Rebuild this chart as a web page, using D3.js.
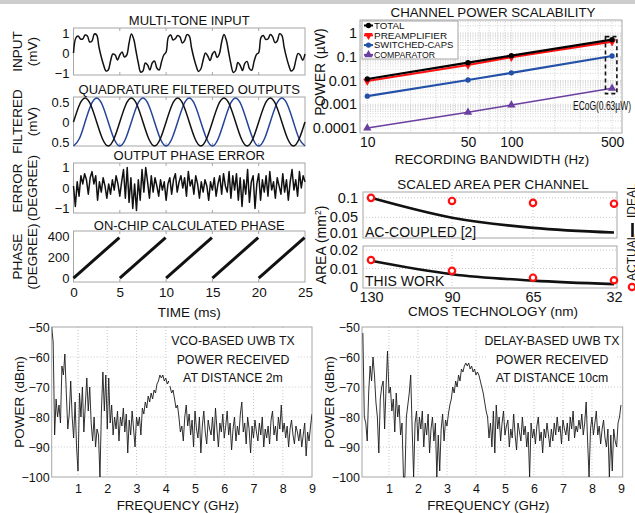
<!DOCTYPE html>
<html>
<head>
<meta charset="utf-8">
<script src="https://cdn.jsdelivr.net/npm/d3@7"></script>
<style>
  body { margin: 0; background: #fff; }
  svg text { fill: #111; }
</style>
</head>
<body>
<svg id="fig" width="635" height="513"></svg>
<script>
const FONT = '"Liberation Sans", Arial, Helvetica, sans-serif';

// ---------- data: left column (time domain) ----------
const inputStep = 0.25; // ms per sample
const inputMv = [
  0.0, 0.75, 0.85, 0.7, 0.7, 0.9, 0.85, 0.55, 0.6, 0.95,
  0.9, 0.3, -0.2, -0.6, -0.9, -0.85, -0.4, -0.05, -0.1, -0.35,
  -0.1, 0.05, -0.2, -0.1, 0.5, 0.95, 0.7, 0.1, -0.5, -0.95,
  -0.9, -0.5, -0.6, -0.85, -0.5, -0.4, -0.75, -0.85, -0.45, -0.1,
  0.05, 0.8, 0.9, 0.65, 0.72, 0.88, 0.8, 0.5, 0.62, 0.92,
  0.85, 0.25, -0.25, -0.65, -0.92, -0.8, -0.35, 0.0, -0.15, -0.38,
  -0.05, 0.08, -0.22, -0.05, 0.55, 0.92, 0.65, 0.05, -0.55, -0.97,
  -0.88, -0.48, -0.62, -0.88, -0.52, -0.42, -0.78, -0.86, -0.42, -0.08,
  0.02, 0.78, 0.88, 0.68, 0.7, 0.92, 0.82, 0.52, 0.6, 0.96,
  0.88, 0.28, -0.22, -0.62, -0.9, -0.82, -0.38, -0.02, -0.12, -0.36, -0.05
];
const quadStep = 0.625;
const quadI = [
  0, 0.42, 0.6, 0.42, 0, -0.42, -0.6, -0.42,
  0, 0.42, 0.6, 0.42, 0, -0.42, -0.6, -0.42,
  0, 0.42, 0.6, 0.42, 0, -0.42, -0.6, -0.42,
  0, 0.42, 0.6, 0.42, 0, -0.42, -0.6, -0.42,
  0, 0.42, 0.6, 0.42, 0, -0.42, -0.6, -0.42, 0
];
const quadQ = [
  -0.6, -0.42, 0, 0.42, 0.6, 0.42, 0, -0.42,
  -0.6, -0.42, 0, 0.42, 0.6, 0.42, 0, -0.42,
  -0.6, -0.42, 0, 0.42, 0.6, 0.42, 0, -0.42,
  -0.6, -0.42, 0, 0.42, 0.6, 0.42, 0, -0.42,
  -0.6, -0.42, 0, 0.42, 0.6, 0.42, 0, -0.42, -0.6
];
const errStep = 0.2;
const phaseErr = [
  0.1, -0.9, 0.3, -0.4, 0.6, 0.2, 0.7, 0.4, -0.3, 0.5,
  0.8, 0.2, 0.6, -0.6, 0.3, -0.2, 0.5, 0.1, -0.5, 0.2,
  -0.3, 0.4, -0.1, 0.6, 0.2, -0.4, 0.3, 0.9, -0.5, 1.0,
  -0.7, 0.5, -1.0, 0.2, -1.1, 0.4, -0.6, 0.9, -0.2, 1.0,
  0.3, -0.5, 0.6, -0.2, 0.5, 0.1, -0.4, 0.4, -0.1, 0.3,
  -0.6, 0.2, 0.5, -0.3, 0.4, 0.7, -0.2, 0.3, 0.6, 0.0,
  0.5, -0.4, 0.8, 0.1, 0.4, -0.3, 0.6, 0.2, -0.5, 0.3,
  -0.2, 0.4, 0.1, -0.6, 0.3, -0.1, 0.5, -0.4, 0.2, 0.6,
  -0.3, 0.7, 0.1, -0.2, 0.8, -0.5, 0.6, -0.1, 0.7, -0.6,
  0.5, -0.9, 0.4, -0.3, 0.9, -0.7, 0.3, 0.6, -1.0, 0.2,
  0.7, -0.6, 0.4, -0.2, 0.6, -0.4, 0.8, -0.1, 0.3, -0.5,
  0.5, 0.1, -0.3, 0.7, -0.2, 0.4, -0.6, 0.3, 0.9, -0.1,
  0.4, -0.4, 0.8, 0.0, 0.6, 0.3
];
const rampStart = [0, 5, 10, 15, 20];
const rampEnd = [4.95, 9.95, 14.95, 19.95, 24.95];
const rampPhase = [0, 385];
const timeTicks = [0, 5, 10, 15, 20, 25];

// ---------- data: channel power ----------
const bandwidth = [10, 50, 100, 500];
const totalPower = [0.0116, 0.056, 0.111, 0.52];
const preampPower = [0.0095, 0.045, 0.095, 0.43];
const capsPower = [0.0022, 0.0105, 0.021, 0.107];
const compPower = [0.0001, 0.00046, 0.00093, 0.0047];
const powerTicks = [0.0001, 0.001, 0.01, 0.1, 1];
const ecogBox = {bw: [450, 540], p: [0.0028, 0.7]};

// ---------- data: scaled area ----------
const cmosNodes = ['130', '90', '65', '32'];
const acIdeal = [0.1, 0.049, 0.023, 0.011];
const acActual = [0.1, 0.092, 0.087, 0.085];
const workIdeal = [0.0142, 0.0069, 0.0034, 0.0015];
const workActual = [0.0146, 0.0087, 0.005, 0.0036];

// ---------- data: UWB spectra (0.10 .. 9.00 GHz, 0.05 GHz steps) ----------
const specStart = 0.1, specStep = 0.05;
const vcoDbm = [
  -50, -55, -86, -74, -80, -76, -82, -63, -66, -59,
  -72, -84, -79, -68, -80, -87, -75, -90, -98, -72,
  -80, -70, -85, -76, -67, -78, -70, -82, -88, -80,
  -90, -84, -86, -100, -78, -65, -78, -66, -84, -67,
  -82, -76, -86, -80, -84, -78, -88, -80, -83, -77,
  -85, -79, -92, -81, -86, -78, -84, -90, -80, -83,
  -80, -86, -77, -79, -75, -77, -73, -75, -72, -74,
  -71, -72, -69, -68, -66, -67, -66, -68, -67, -69,
  -68, -70, -72, -71, -74, -77, -76, -80, -85, -83,
  -88, -80, -76, -83, -79, -86, -81, -90, -78, -84,
  -87, -80, -92, -83, -78, -85, -89, -81, -84, -86,
  -80, -88, -77, -84, -90, -82, -85, -79, -87, -83,
  -78, -86, -82, -91, -84, -80, -88, -83, -86, -79,
  -75, -85, -82, -89, -80, -84, -92, -83, -87, -81,
  -85, -88, -82, -86, -80, -90, -84, -87, -83, -89,
  -81, -78, -86, -83, -88, -80, -84, -76, -85, -82,
  -87, -83, -90, -84, -81, -86, -89, -83, -85, -88,
  -84, -90, -86, -82, -93, -85, -88, -83, -79
];
const delayDbm = [
  -52, -80, -82, -88, -72, -63, -68, -60, -66, -75,
  -80, -92, -74, -70, -68, -84, -70, -58, -72, -70,
  -78, -74, -85, -72, -80, -76, -86, -82, -100, -100,
  -80, -76, -72, -66, -84, -100, -82, -78, -88, -80,
  -84, -78, -90, -82, -86, -79, -92, -84, -80, -88,
  -82, -100, -86, -98, -84, -79, -88, -81, -83, -79,
  -76, -74, -70, -72, -68, -70, -66, -68, -64, -65,
  -63, -62, -63, -62, -64, -63, -65, -64, -66, -65,
  -66, -68, -70, -72, -75, -78, -80, -87, -82, -90,
  -78, -92, -76, -84, -80, -88, -82, -78, -86, -83,
  -81, -90, -84, -87, -79, -86, -91, -82, -85, -88,
  -80, -86, -83, -90, -85, -100, -82, -87, -84, -89,
  -83, -80, -88, -85, -92, -84, -87, -82, -86, -90,
  -84, -88, -82, -86, -80, -85, -83, -89, -81, -84,
  -86, -82, -88, -80, -84, -78, -87, -83, -85, -81,
  -84, -79, -86, -82, -75, -88, -100, -84, -80, -86,
  -82, -78, -86, -83, -89, -84, -81, -87, -90, -84,
  -100, -86, -98, -84, -88, -90, -82, -80, -76
];
const freqTicks = [1, 2, 3, 4, 5, 6, 7, 8, 9];
const dbmTicks = [-100, -90, -80, -70, -60, -50];

// ---------- drawing ----------
const svg = d3.select('#fig').attr('font-family', FONT);
svg.append('rect').attr('width', 635).attr('height', 513).attr('fill', '#fff');
svg.append('rect').attr('width', 635).attr('height', 4).attr('fill', '#cdcdcd');

const FRAME = '#a6a6a6';
const GRID = '#c8c8c8';

function styleAxis(a, size) {
  a.select('.domain').remove();
  a.attr('font-family', FONT).attr('font-size', size).style('color', '#111');
  return a;
}

function label(g, x, y, txt, size, opts = {}) {
  const t = g.append('text').attr('x', x).attr('y', y)
    .attr('font-size', size).attr('text-anchor', opts.anchor || 'middle').text(txt);
  if (opts.rotate) t.attr('transform', `rotate(${opts.rotate},${x},${y})`);
  if (opts.len) t.attr('textLength', opts.len).attr('lengthAdjust', 'spacingAndGlyphs');
  return t;
}

// left column
const lx = d3.scaleLinear().domain([0, 25]).range([73.5, 305]);
const [lx0, lx1] = lx.range();

function leftPanel(p) {
  const g = svg.append('g');
  const y = d3.scaleLinear().domain(p.domain).range([p.bottom, p.top]);
  g.append('rect').attr('x', lx0).attr('y', p.top)
    .attr('width', lx1 - lx0).attr('height', p.bottom - p.top)
    .attr('fill', 'none').attr('stroke', FRAME);
  g.selectAll('line.xt').data(timeTicks.slice(1, -1)).join('line')
    .attr('x1', d => lx(d)).attr('x2', d => lx(d))
    .attr('y1', p.bottom).attr('y2', p.bottom - 3).attr('stroke', FRAME);
  g.selectAll('line.xt2').data(timeTicks.slice(1, -1)).join('line')
    .attr('x1', d => lx(d)).attr('x2', d => lx(d))
    .attr('y1', p.top).attr('y2', p.top + 3).attr('stroke', FRAME);
  const ya = g.append('g').attr('transform', `translate(${lx0 - 3},0)`)
    .call(d3.axisLeft(y).tickValues(p.ticks).tickSize(0).tickPadding(1)
      .tickFormat(p.fmt || d3.format('d')));
  styleAxis(ya, 13);
  label(g, (lx0 + lx1) / 2, p.titleY, p.title, 13);
  const cy = (p.top + p.bottom) / 2;
  label(g, 22, cy, p.ylab[0], 13.5, {rotate: -90});
  label(g, 37, cy, p.ylab[1], 13.5, {rotate: -90});
  return {g, y};
}

const p1 = leftPanel({title: 'MULTI-TONE INPUT', titleY: 25, top: 28, bottom: 75,
  domain: [-1.1, 1.25], ticks: [-1, 0, 1], ylab: ['INPUT', '(mV)']});
p1.g.append('path')
  .datum(inputMv)
  .attr('fill', 'none').attr('stroke', '#111').attr('stroke-width', 1.5)
  .attr('d', d3.line().x((d, i) => lx(i * inputStep)).y(d => p1.y(d)).curve(d3.curveCatmullRom));

const p2 = leftPanel({title: 'QUADRATURE FILTERED OUTPUTS', titleY: 93.5, top: 97, bottom: 146,
  domain: [-0.6, 0.625], ticks: [-0.5, 0, 0.5], fmt: d => d3.format('')(Math.abs(d)),
  ylab: ['FILTERED', '(mV)']});
const quadLine = d3.line().x((d, i) => lx(i * quadStep)).y(d => p2.y(d)).curve(d3.curveNatural);
p2.g.append('path').datum(quadQ).attr('fill', 'none')
  .attr('stroke', '#24449a').attr('stroke-width', 1.5).attr('d', quadLine);
p2.g.append('path').datum(quadI).attr('fill', 'none')
  .attr('stroke', '#111').attr('stroke-width', 1.5).attr('d', quadLine);

const p3 = leftPanel({title: 'OUTPUT PHASE ERROR', titleY: 159.5, top: 163, bottom: 213,
  domain: [-1.22, 1.22], ticks: [-1, 0, 1], ylab: ['ERROR', '(DEGREE)']});
p3.g.append('path').datum(phaseErr).attr('fill', 'none')
  .attr('stroke', '#111').attr('stroke-width', 1.5).attr('stroke-linejoin', 'round')
  .attr('d', d3.line().x((d, i) => lx(i * errStep)).y(d => p3.y(d)));

const p4 = leftPanel({title: 'ON-CHIP CALCULATED PHASE', titleY: 229.5, top: 231, bottom: 282,
  domain: [-38, 448], ticks: [0, 200, 400], ylab: ['PHASE', '(DEGREE)']});
p4.g.selectAll('line.ramp').data(rampStart).join('line')
  .attr('x1', d => lx(d)).attr('x2', (d, i) => lx(rampEnd[i]))
  .attr('y1', p4.y(rampPhase[0])).attr('y2', p4.y(rampPhase[1]))
  .attr('stroke', '#111').attr('stroke-width', 3);
const tx = p4.g.append('g').attr('transform', `translate(0,282)`)
  .call(d3.axisBottom(lx).tickValues(timeTicks).tickSize(0).tickPadding(5));
styleAxis(tx, 13.5);
label(svg, (lx0 + lx1) / 2, 317, 'TIME (ms)', 13.5);

// channel power scalability
(function () {
  const g = svg.append('g');
  const x = d3.scaleLog().domain([8.9, 586]).range([360, 622]);
  const y = d3.scaleLog().domain([6.2e-5, 3.5]).range([133, 20]);
  const [x0, x1] = x.range(), [y1, y0] = y.range();
  const xMinor = [10, 20, 30, 40, 50, 60, 70, 80, 90, 100, 200, 300, 400, 500];
  const yMinor = [];
  powerTicks.forEach(t => [1, 2, 3, 4, 5, 6, 7, 8, 9].forEach(m => { if (t * m < 3.5) yMinor.push(t * m); }));
  g.selectAll('line.vg').data(xMinor).join('line')
    .attr('x1', d => x(d)).attr('x2', d => x(d)).attr('y1', y0).attr('y2', y1)
    .attr('stroke', GRID).attr('stroke-dasharray', '1,1.5').attr('stroke-width', 0.8);
  g.selectAll('line.hg').data(yMinor).join('line')
    .attr('x1', x0).attr('x2', x1).attr('y1', d => y(d)).attr('y2', d => y(d))
    .attr('stroke', GRID).attr('stroke-dasharray', '1,1.5').attr('stroke-width', 0.8);
  g.append('rect').attr('x', x0).attr('y', y0).attr('width', x1 - x0).attr('height', y1 - y0)
    .attr('fill', 'none').attr('stroke', FRAME);

  const series = [
    {name: 'TOTAL', vals: totalPower, color: '#000', sym: d3.symbolCircle, size: 22, rot: 0},
    {name: 'PREAMPLIFIER', vals: preampPower, color: '#ff1010', sym: d3.symbolTriangle, size: 30, rot: 180},
    {name: 'SWITCHED-CAPS', vals: capsPower, color: '#2451a8', sym: d3.symbolCircle, size: 22, rot: 0},
    {name: 'COMPARATOR', vals: compPower, color: '#6a3fa0', sym: d3.symbolTriangle, size: 30, rot: 0}
  ];
  const line = d3.line().x((d, i) => x(bandwidth[i])).y(d => y(d));
  series.slice().reverse().forEach(s => {
    g.append('path').datum(s.vals).attr('fill', 'none').attr('stroke', s.color)
      .attr('stroke-width', s.name === 'COMPARATOR' ? 1.6 : 2.2).attr('d', line);
    g.selectAll(null).data(s.vals).join('path')
      .attr('transform', (d, i) => `translate(${x(bandwidth[i])},${y(d)}) rotate(${s.rot})`)
      .attr('d', d3.symbol().type(s.sym).size(s.size)).attr('fill', s.color);
  });

  // ECoG box
  g.append('rect')
    .attr('x', x(ecogBox.bw[0])).attr('y', y(ecogBox.p[1]))
    .attr('width', x(ecogBox.bw[1]) - x(ecogBox.bw[0]))
    .attr('height', y(ecogBox.p[0]) - y(ecogBox.p[1]))
    .attr('fill', 'none').attr('stroke', '#111').attr('stroke-width', 1.6)
    .attr('stroke-dasharray', '4,3');
  label(g, 573, 109.5, 'ECoG(0.63µW)', 12, {anchor: 'start', len: 58});

  // legend
  const lg = g.append('g');
  lg.append('rect').attr('x', 362).attr('y', 21).attr('width', 96).attr('height', 38)
    .attr('fill', '#fff').attr('stroke', FRAME);
  series.forEach((s, i) => {
    const ly = 25.5 + i * 9.8;
    lg.append('line').attr('x1', 364).attr('x2', 373).attr('y1', ly).attr('y2', ly)
      .attr('stroke', s.color).attr('stroke-width', 2);
    lg.append('path').attr('transform', `translate(368.5,${ly}) rotate(${s.rot})`)
      .attr('d', d3.symbol().type(s.sym).size(s.size)).attr('fill', s.color);
    label(lg, 374, ly + 3.2, s.name, 8.6, {anchor: 'start', len: s.name.length * 6.1});
  });

  const ya = g.append('g').attr('transform', `translate(${x0 - 3},0)`)
    .call(d3.axisLeft(y).tickValues(powerTicks).tickSize(0).tickPadding(0)
      .tickFormat(d => String(+d.toPrecision(1))));
  styleAxis(ya, 14.5);
  const xa = g.append('g').attr('transform', `translate(0,${y1})`)
    .call(d3.axisBottom(x).tickValues(bandwidth).tickSize(0).tickPadding(4).tickFormat(d3.format('d')));
  styleAxis(xa, 14);
  label(g, 493, 17, 'CHANNEL POWER SCALABILITY', 13.3);
  label(g, 492, 164, 'RECORDING BANDWIDTH (Hz)', 13.3);
  label(g, 325, 72, 'POWER (µW)', 14, {rotate: -90});
})();

// scaled area per channel
(function () {
  const g = svg.append('g');
  const x = d3.scalePoint().domain(cmosNodes).range([371, 614]);
  const fx0 = 363, fx1 = 617;
  const subs = [
    {top: 192, bottom: 238, domain: [-0.003, 0.115], ticks: [0.01, 0.05, 0.1],
      ideal: acIdeal, actual: acActual, note: 'AC-COUPLED [2]', noteY: 236.5},
    {top: 246, bottom: 288, domain: [-0.0006, 0.0222], ticks: [0, 0.01, 0.02],
      ideal: workIdeal, actual: workActual, note: 'THIS WORK', noteY: 285.5}
  ];
  subs.forEach(s => {
    const y = d3.scaleLinear().domain(s.domain).range([s.bottom, s.top]);
    g.selectAll(null).data(cmosNodes.slice(1, -1)).join('line')
      .attr('x1', d => x(d)).attr('x2', d => x(d)).attr('y1', s.top).attr('y2', s.bottom)
      .attr('stroke', GRID).attr('stroke-dasharray', '1,2');
    g.selectAll(null).data(s.ticks.slice(1)).join('line')
      .attr('x1', fx0).attr('x2', fx1).attr('y1', d => y(d)).attr('y2', d => y(d))
      .attr('stroke', GRID).attr('stroke-dasharray', '1,2');
    g.append('rect').attr('x', fx0).attr('y', s.top).attr('width', fx1 - fx0)
      .attr('height', s.bottom - s.top).attr('fill', 'none').attr('stroke', FRAME);
    label(g, 365, s.noteY, s.note, 14, {anchor: 'start'});
    g.append('path').datum(s.ideal).attr('fill', 'none').attr('stroke', '#111')
      .attr('stroke-width', 2.6)
      .attr('d', d3.line().x((d, i) => x(cmosNodes[i])).y(d => y(d)).curve(d3.curveMonotoneX));
    g.selectAll(null).data(s.actual).join('circle')
      .attr('cx', (d, i) => x(cmosNodes[i])).attr('cy', d => y(d)).attr('r', 3.2)
      .attr('fill', '#fff').attr('stroke', '#ff1010').attr('stroke-width', 2.2);
    const ya = g.append('g').attr('transform', `translate(${fx0 - 5},0)`)
      .call(d3.axisLeft(y).tickValues(s.ticks).tickSize(0).tickPadding(0)
        .tickFormat(d => String(d)));
    styleAxis(ya, 14.5);
  });
  const xa = g.append('g').attr('transform', 'translate(0,288)')
    .call(d3.axisBottom(x).tickSize(0).tickPadding(4));
  styleAxis(xa, 14.5);
  label(g, 493, 189, 'SCALED AREA PER CHANNEL', 13.4);
  label(g, 493, 316, 'CMOS TECHNOLOGY (nm)', 13.5);
  const ay = label(g, 326, 245, '', 14, {rotate: -90});
  ay.append('tspan').text('AREA (mm');
  ay.append('tspan').attr('font-size', 8.5).attr('dy', -5).text('2');
  ay.append('tspan').attr('dy', 5).text(')');
  // rotated legend at right edge
  label(g, 636, 218, 'IDEAL', 12, {anchor: 'start', rotate: -90});
  g.append('line').attr('x1', 632.5).attr('x2', 632.5).attr('y1', 223).attr('y2', 237)
    .attr('stroke', '#111').attr('stroke-width', 2.6);
  label(g, 636, 281, 'ACTUAL', 12, {anchor: 'start', rotate: -90});
  g.append('circle').attr('cx', 632).attr('cy', 287).attr('r', 3.2)
    .attr('fill', '#fff').attr('stroke', '#ff1010').attr('stroke-width', 2.2);
})();

// UWB spectra
function spectrum(cfg) {
  const g = svg.append('g');
  const x = d3.scaleLinear().domain(cfg.xDomain).range(cfg.xRange);
  const y = d3.scaleLinear().domain([-100, -50]).range([477, 327]);
  const [x0, x1] = x.range(), [y1, y0] = y.range();
  const clipId = 'clip' + cfg.id;
  g.append('clipPath').attr('id', clipId).append('rect')
    .attr('x', x0).attr('y', y0 - 1).attr('width', x1 - x0).attr('height', y1 - y0 + 2);
  g.selectAll(null).data(freqTicks.slice(0, -1)).join('line')
    .attr('x1', d => x(d)).attr('x2', d => x(d)).attr('y1', y0).attr('y2', y1)
    .attr('stroke', GRID).attr('stroke-dasharray', '1,2');
  g.selectAll(null).data(dbmTicks.slice(1, -1)).join('line')
    .attr('x1', x0).attr('x2', x1).attr('y1', d => y(d)).attr('y2', d => y(d))
    .attr('stroke', GRID).attr('stroke-dasharray', '1,2');
  g.append('rect').attr('x', x0).attr('y', y0).attr('width', x1 - x0).attr('height', y1 - y0)
    .attr('fill', 'none').attr('stroke', FRAME);
  g.append('path').datum(cfg.vals).attr('clip-path', `url(#${clipId})`)
    .attr('fill', 'none').attr('stroke', '#1a1a1a').attr('stroke-width', 0.9)
    .attr('d', d3.line().x((d, i) => x(specStart + i * specStep)).y(d => y(d)));
  // annotation
  g.append('rect').attr('x', cfg.noteX - 64).attr('y', 330).attr('width', 128).attr('height', 56)
    .attr('fill', '#fff');
  cfg.note.forEach((s, i) => label(g, cfg.noteX, 345 + i * 18.5, s, 12.3));
  const ya = g.append('g').attr('transform', `translate(${x0 - 2},0)`)
    .call(d3.axisLeft(y).tickValues(dbmTicks).tickSize(0).tickPadding(0));
  styleAxis(ya, 12.5);
  const xa = g.append('g').attr('transform', `translate(0,${y1})`)
    .call(d3.axisBottom(x).tickValues(freqTicks).tickSize(0).tickPadding(7));
  styleAxis(xa, 12.5);
  label(g, (x0 + x1) / 2 - 4, 510, 'FREQUENCY (GHz)', 13.3);
  label(g, cfg.ylabX, 402, 'POWER (dBm)', 13.5, {rotate: -90});
}

spectrum({id: 'a', vals: vcoDbm, xDomain: [0.1, 9.0], xRange: [51.7, 312],
  noteX: 233, note: ['VCO-BASED UWB TX', 'POWER RECEIVED', 'AT DISTANCE 2m'], ylabX: 24});
spectrum({id: 'b', vals: delayDbm, xDomain: [0.07, 9.06], xRange: [362, 622.7],
  noteX: 552, note: ['DELAY-BASED UWB TX', 'POWER RECEIVED', 'AT DISTANCE 10cm'], ylabX: 334});
</script>
</body>
</html>
